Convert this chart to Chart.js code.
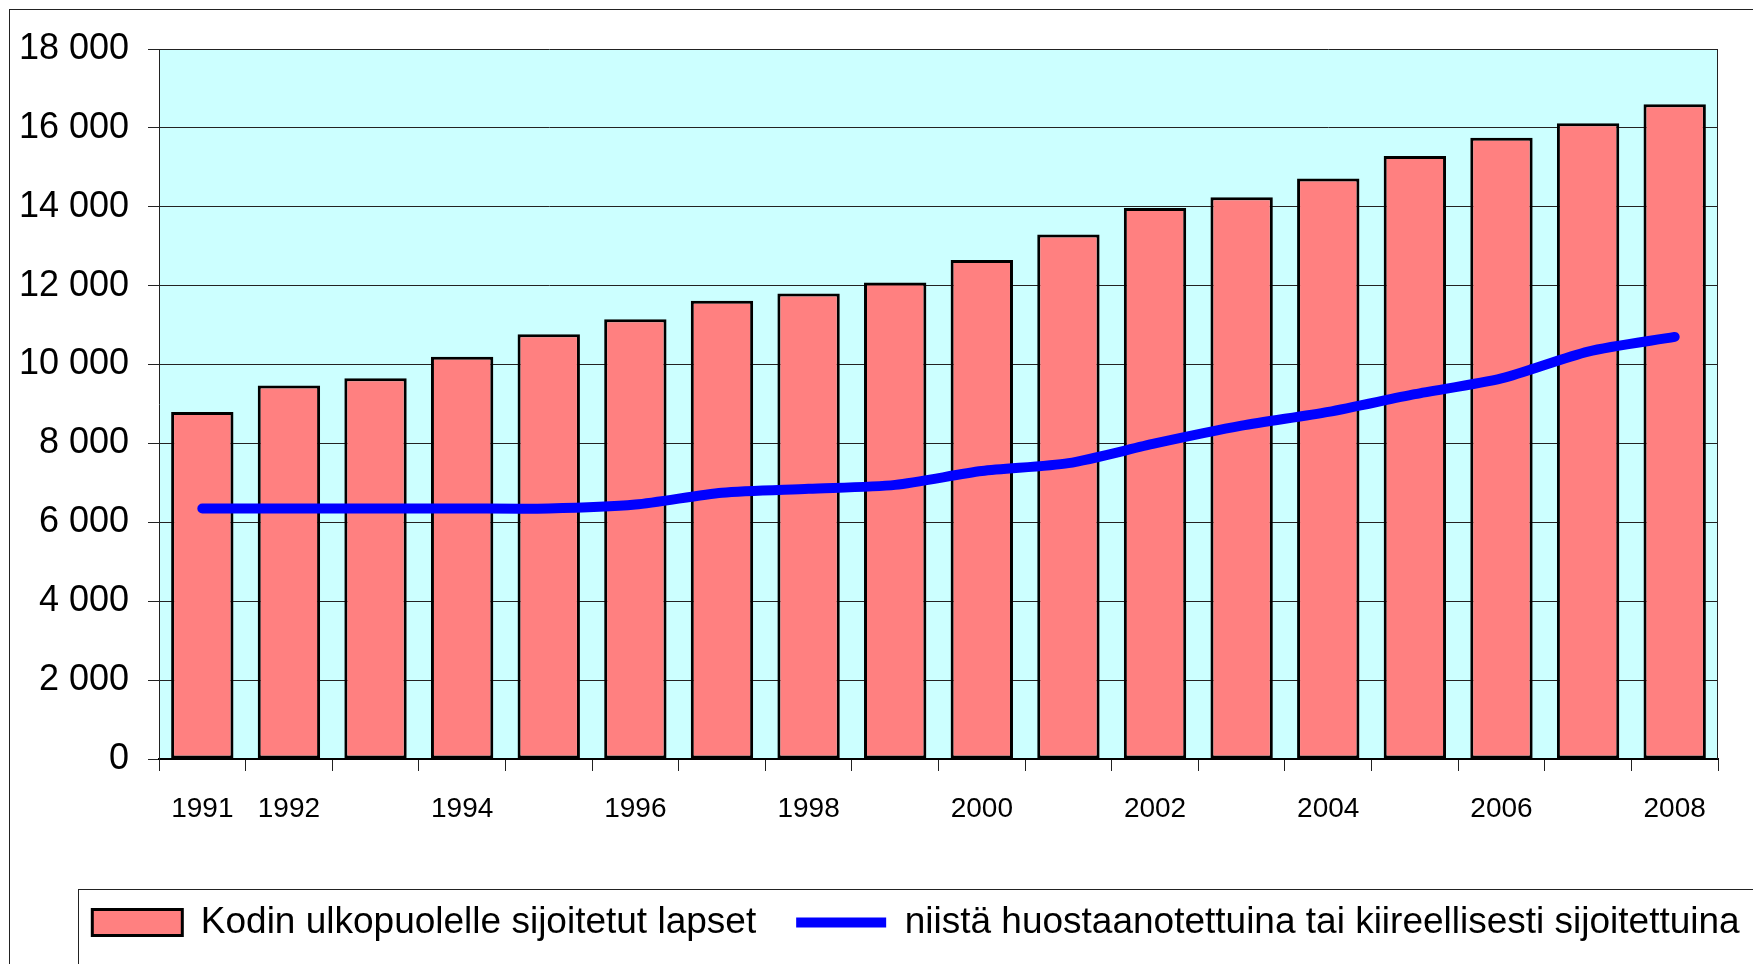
<!DOCTYPE html>
<html>
<head>
<meta charset="utf-8">
<script src="https://cdn.jsdelivr.net/npm/chart.js@4/dist/chart.umd.min.js"></script>
<style>
  html, body { margin: 0; padding: 0; background: #ffffff; }
  #wrap { width: 1753px; height: 964px; position: relative; }
</style>
</head>
<body>
<div id="wrap"><canvas id="lapsetChart" width="1753" height="964"></canvas></div>
<script>
// years on the x axis, and which of them get a label
var years = ['1991', '1992', '1993', '1994', '1995', '1996', '1997', '1998', '1999',
             '2000', '2001', '2002', '2003', '2004', '2005', '2006', '2007', '2008'];
var yearTicks = ['1991', '1992', '', '1994', '', '1996', '', '1998', '',
                 '2000', '', '2002', '', '2004', '', '2006', '', '2008'];

// children placed outside the home (bars)
var placedOutside = [8800, 9470, 9650, 10200, 10770, 11150, 11620, 11800, 12080,
                     12650, 13300, 13970, 14240, 14720, 15290, 15750, 16120, 16600];
// of them taken into custody or urgently placed (line)
var inCustody = [6350, 6350, 6350, 6350, 6350, 6450, 6750, 6850, 6950,
                 7300, 7500, 8000, 8450, 8800, 9250, 9650, 10330, 10700];

var yTicks = [0, 2000, 4000, 6000, 8000, 10000, 12000, 14000, 16000, 18000];

Chart.defaults.font.family = "'Liberation Sans', Arial, sans-serif";
Chart.defaults.color = '#000000';

// 18000 -> "18 000"
function spaced(v) {
    return String(v).replace(/\B(?=(\d{3})+(?!\d))/g, ' ');
}

// plot background, outer frame and the legend frame
var frames = {
    id: 'frames',
    beforeDraw: function (chart) {
        var ctx = chart.ctx;
        var a = chart.chartArea;
        ctx.save();
        ctx.fillStyle = '#ccffff';
        ctx.fillRect(a.left, a.top, a.right - a.left, a.bottom - a.top);
        ctx.strokeStyle = '#222222';
        ctx.lineWidth = 1;
        ctx.strokeRect(9.5, 9.5, 3000, 3000);
        var lg = chart.legend;
        ctx.strokeRect(Math.round(lg.left + 78) + 0.5, Math.round(lg.top + 25) + 0.5, 3000, 3000);
        ctx.restore();
    },
    beforeDatasetsDraw: function (chart) {
        var ctx = chart.ctx;
        var a = chart.chartArea;
        ctx.save();
        ctx.strokeStyle = '#222222';
        ctx.lineWidth = 1;
        ctx.beginPath();
        ctx.moveTo(a.right - 0.5, a.top);
        ctx.lineTo(a.right - 0.5, a.bottom);
        ctx.stroke();
        ctx.restore();
    }
};

var chartTarget = document.getElementById('lapsetChart');

var lapsetChart = new Chart(chartTarget, {
    type: 'bar',
    data: {
        labels: years,
        datasets: [
            {
                type: 'bar',
                label: 'Kodin ulkopuolelle sijoitetut lapset',
                data: placedOutside,
                backgroundColor: '#ff8080',
                borderColor: '#000000',
                borderWidth: 3,
                borderSkipped: false,
                barPercentage: 0.72,
                categoryPercentage: 1.0,
                pointStyle: 'rect',
                order: 2
            },
            {
                type: 'line',
                label: 'niistä huostaanotettuina tai kiireellisesti sijoitettuina',
                data: inCustody,
                borderColor: '#0000ff',
                backgroundColor: '#0000ff',
                borderWidth: 10,
                borderCapStyle: 'round',
                borderJoinStyle: 'round',
                tension: 0.25,
                pointRadius: 0,
                pointHoverRadius: 0,
                pointStyle: 'line',
                fill: false,
                order: 1
            }
        ]
    },
    options: {
        responsive: false,
        animation: false,
        layout: {
            padding: { left: 0, right: -79, top: 49, bottom: 13 }
        },
        scales: {
            x: {
                offset: true,
                grid: {
                    offset: true,
                    drawOnChartArea: false,
                    color: '#222222',
                    tickLength: 12
                },
                border: { color: '#000000', width: 2 },
                ticks: {
                    autoSkip: false,
                    maxRotation: 0,
                    padding: 21,
                    font: { size: 28 },
                    callback: function (value, index) { return yearTicks[index]; }
                },
                afterFit: function (scale) { scale.height = 105; }
            },
            y: {
                min: 0,
                max: 18000,
                afterBuildTicks: function (scale) {
                    scale.ticks = yTicks.map(function (v) { return { value: v }; });
                },
                grid: {
                    color: '#222222',
                    tickLength: 11
                },
                border: { color: '#222222', width: 1 },
                ticks: {
                    padding: 19,
                    font: { size: 36 },
                    callback: function (value) { return spaced(value); }
                },
                afterFit: function (scale) { scale.width = 159; }
            },
            // empty right-hand axis, keeps the plot off the right edge
            yRight: {
                position: 'right',
                display: true,
                grid: { display: false },
                border: { display: false },
                ticks: { display: false },
                afterFit: function (scale) { scale.width = 114; }
            }
        },
        plugins: {
            legend: {
                position: 'bottom',
                align: 'center',
                labels: {
                    usePointStyle: true,
                    pointStyleWidth: 90,
                    boxHeight: 26,
                    padding: 40,
                    font: { size: 37 },
                    color: '#000000',
                    sort: function (a, b) { return a.datasetIndex - b.datasetIndex; }
                }
            },
            tooltip: { enabled: false }
        }
    },
    plugins: [frames]
});
</script>
</body>
</html>
